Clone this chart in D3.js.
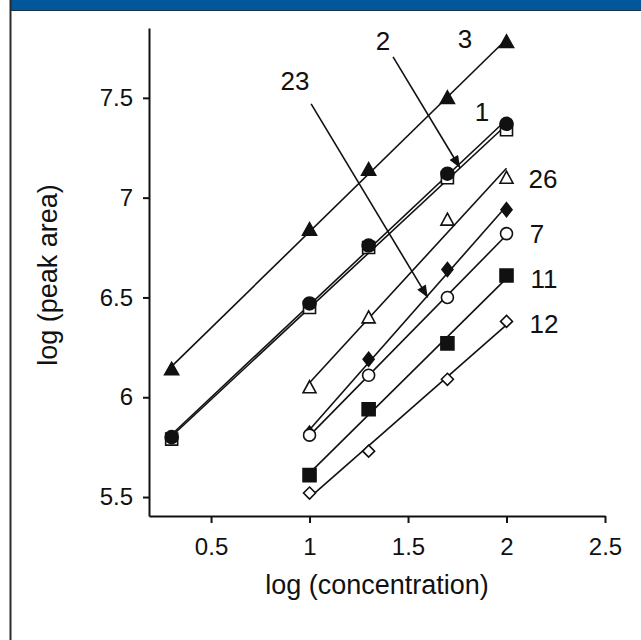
<!DOCTYPE html>
<html>
<head>
  <script src="https://d3js.org/d3.v7.min.js"></script>
  <style>
    body { margin: 0; background: #fff; }
    text { font-family: "Liberation Sans", Arial, sans-serif; fill: #111; }
  </style>
</head>
<body>
  <script>
    const width = 641;
    const height = 640;

    // log (concentration) values at which each compound was measured
    const concFull = [0.3, 1, 1.3, 1.7, 2];
    const concShort = [1, 1.3, 1.7, 2];

    // log (peak area) per compound
    const series3 = [6.14, 6.84, 7.14, 7.50, 7.78];
    const series1 = [5.80, 6.47, 6.76, 7.12, 7.37];
    const series2 = [5.79, 6.45, 6.75, 7.10, 7.34];
    const series26 = [6.05, 6.40, 6.89, 7.10];
    const series23 = [5.82, 6.19, 6.64, 6.94];
    const series7 = [5.81, 6.11, 6.50, 6.82];
    const series11 = [5.61, 5.94, 6.27, 6.61];
    const series12 = [5.52, 5.73, 6.09, 6.38];

    const xTicks = [0.5, 1, 1.5, 2, 2.5];
    const yTicks = [5.5, 6, 6.5, 7, 7.5];

    // compound labels [label, x, y] in data units
    const labels = [
      ["3", 1.789, 7.75],
      ["2", 1.373, 7.74],
      ["1", 1.876, 7.385],
      ["23", 0.926, 7.54],
      ["26", 2.185, 7.05],
      ["7", 2.155, 6.774],
      ["11", 2.19, 6.549],
      ["12", 2.19, 6.323]
    ];

    // pointer arrows [x1, y1, x2, y2] in data units
    const arrows = [
      [1.424, 7.705, 1.764, 7.15],
      [1.008, 7.47, 1.6, 6.5]
    ];

    const seriesList = [
      { x: concFull, y: series3, shape: "triangle", filled: true },
      { x: concFull, y: series2, shape: "square", filled: false },
      { x: concFull, y: series1, shape: "circle", filled: true },
      { x: concShort, y: series26, shape: "triangle", filled: false },
      { x: concShort, y: series23, shape: "diamond", filled: true },
      { x: concShort, y: series7, shape: "circle", filled: false },
      { x: concShort, y: series11, shape: "square", filled: true },
      { x: concShort, y: series12, shape: "diamond", filled: false }
    ];

    const svg = d3.select("body")
      .append("svg")
      .attr("width", width)
      .attr("height", height);

    // page frame: blue strip on top, dark rule on the left
    svg.append("rect")
      .attr("x", 10).attr("y", 0)
      .attr("width", width - 10).attr("height", 11)
      .attr("fill", "#02579b");
    svg.append("line")
      .attr("x1", 10).attr("x2", width)
      .attr("y1", 10.5).attr("y2", 10.5)
      .attr("stroke", "#1d3147").attr("stroke-width", 1);
    svg.append("line")
      .attr("x1", 10.5).attr("x2", 10.5)
      .attr("y1", 0).attr("y2", height)
      .attr("stroke", "#2b2b2b").attr("stroke-width", 2);

    const x = d3.scaleLinear().domain([0.185, 2.5]).range([149, 605]);
    const y = d3.scaleLinear().domain([5.405, 7.85]).range([516, 28]);

    const xAxis = svg.append("g")
      .attr("transform", `translate(0,516)`)
      .call(d3.axisBottom(x).tickValues(xTicks).tickFormat(d3.format("")).tickSize(7).tickSizeOuter(0).tickPadding(15));
    const yAxis = svg.append("g")
      .attr("transform", `translate(149,0)`)
      .call(d3.axisLeft(y).tickValues(yTicks).tickFormat(d3.format("")).tickSize(6).tickSizeOuter(0).tickPadding(10));

    [xAxis, yAxis].forEach(a => {
      a.select(".domain").attr("stroke", "#111").attr("stroke-width", 2);
      a.selectAll(".tick line").attr("stroke", "#111").attr("stroke-width", 2);
      a.selectAll(".tick text")
        .attr("font-size", "24px")
        .attr("font-family", "'Liberation Sans', Arial, sans-serif")
        .attr("fill", "#111");
    });

    svg.append("text")
      .attr("x", 377)
      .attr("y", 594)
      .attr("text-anchor", "middle")
      .attr("font-size", "27px")
      .text("log (concentration)");

    svg.append("text")
      .attr("transform", "translate(57,275) rotate(-90)")
      .attr("text-anchor", "middle")
      .attr("font-size", "27px")
      .text("log (peak area)");

    // least-squares line through each compound's points
    function fit(xs, ys) {
      const mx = d3.mean(xs), my = d3.mean(ys);
      const b = d3.sum(xs, (v, i) => (v - mx) * (ys[i] - my)) / d3.sum(xs, v => (v - mx) ** 2);
      return v => my + b * (v - mx);
    }

    const lines = svg.append("g");
    seriesList.forEach(s => {
      const f = fit(s.x, s.y);
      const x0 = d3.min(s.x), x1 = d3.max(s.x);
      lines.append("line")
        .attr("x1", x(x0)).attr("y1", y(f(x0)))
        .attr("x2", x(x1)).attr("y2", y(f(x1)))
        .attr("stroke", "#111")
        .attr("stroke-width", 1.6);
    });

    function shapePath(shape, filled) {
      if (shape === "triangle") return filled ? "M0,-7L7,5.5L-7,5.5Z" : "M0,-6.5L6.5,5.5L-6.5,5.5Z";
      if (shape === "square") return filled ? "M-6.5,-6.5H6.5V6.5H-6.5Z" : "M-6,-6H6V6H-6Z";
      if (shape === "diamond") return filled ? "M0,-7L5.5,0L0,7L-5.5,0Z" : "M0,-6L6,0L0,6L-6,0Z";
      return null;
    }

    const marks = svg.append("g");
    seriesList.forEach(s => {
      const g = marks.append("g");
      const pts = s.x.map((v, i) => [v, s.y[i]]);
      if (s.shape === "circle") {
        g.selectAll("circle")
          .data(pts)
          .join("circle")
          .attr("cx", d => x(d[0]))
          .attr("cy", d => y(d[1]))
          .attr("r", s.filled ? 6.5 : 6)
          .attr("fill", s.filled ? "#111" : "#fff")
          .attr("stroke", "#111")
          .attr("stroke-width", 1.6);
      } else {
        g.selectAll("path")
          .data(pts)
          .join("path")
          .attr("transform", d => `translate(${x(d[0])},${y(d[1])})`)
          .attr("d", shapePath(s.shape, s.filled))
          .attr("fill", s.filled ? "#111" : "#fff")
          .attr("stroke", "#111")
          .attr("stroke-width", 1.6);
      }
    });

    svg.append("defs").append("marker")
      .attr("id", "head")
      .attr("viewBox", "0 0 12 10")
      .attr("refX", 12).attr("refY", 5)
      .attr("markerWidth", 13).attr("markerHeight", 10)
      .attr("markerUnits", "userSpaceOnUse")
      .attr("orient", "auto")
      .append("path")
      .attr("d", "M0,0L12,5L0,10Z")
      .attr("fill", "#111");

    svg.append("g")
      .selectAll("line")
      .data(arrows)
      .join("line")
      .attr("x1", d => x(d[0])).attr("y1", d => y(d[1]))
      .attr("x2", d => x(d[2])).attr("y2", d => y(d[3]))
      .attr("stroke", "#111")
      .attr("stroke-width", 1.6)
      .attr("marker-end", "url(#head)");

    svg.append("g")
      .selectAll("text")
      .data(labels)
      .join("text")
      .attr("x", d => x(d[1]))
      .attr("y", d => y(d[2]))
      .attr("text-anchor", "middle")
      .attr("font-size", "26px")
      .text(d => d[0]);
  </script>
</body>
</html>
